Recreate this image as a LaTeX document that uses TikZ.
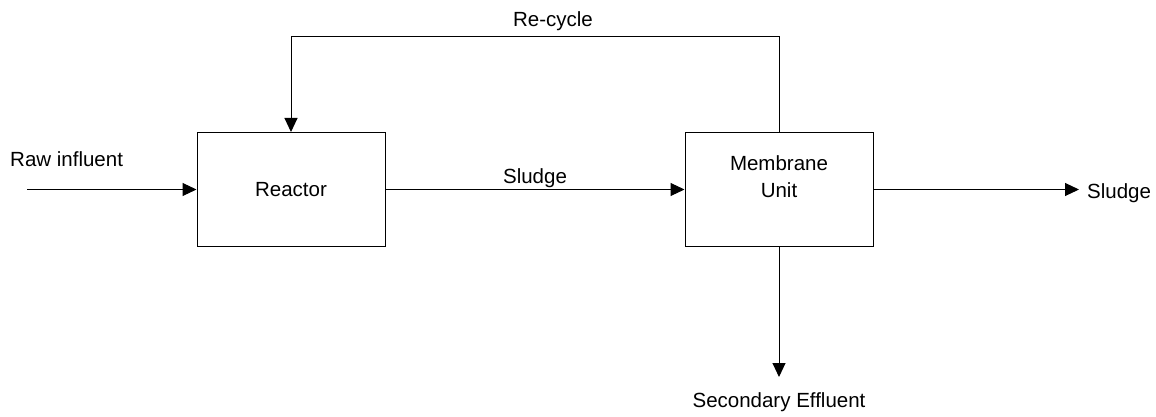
\documentclass[tikz,border=0pt]{standalone}
\usepackage{fontspec}
\setmainfont{Liberation Sans}
\usetikzlibrary{arrows.meta}
\begin{document}
\begin{tikzpicture}[x=1pt,y=-1pt,
  lbl/.style={font=\fontsize{20.5}{27}\selectfont,inner sep=0pt},
  unitbox/.style={draw,line width=1pt,minimum width=188pt,minimum height=114pt,inner sep=0pt,align=center,font=\fontsize{20.5}{27}\selectfont},
  arr/.style={line width=1pt,-{Triangle[length=14pt,width=13pt]}}]
\useasboundingbox (0,0) rectangle (1156,417);
\node[unitbox] (reactor) at (291,189.5) {Reactor};
\node[unitbox] (membrane) at (779,189.5) {};
\node[lbl,anchor=base] (mem1) at (779,170) {Membrane};
\node[lbl,anchor=base] (mem2) at (779,197) {Unit};
\coordinate (rawstart) at (27,189.5);
\coordinate (sludgeend) at (1079,189.5);
\coordinate (effend) at (779,377);
\draw[arr] (rawstart) -- (reactor.west);
\draw[arr] (reactor.east) -- (membrane.west);
\draw[arr] (membrane.east) -- (sludgeend);
\draw[arr] (membrane.south) -- (effend);
\draw[arr] (membrane.north) -- ++(0,-95) -| (reactor.north);
\node[lbl,anchor=base west] (raw) at (10,166) {Raw influent};
\node[lbl,anchor=base] (sludgemid) at (535,183) {Sludge};
\node[lbl,anchor=base west] (sludgeout) at (1087,198) {Sludge};
\node[lbl,anchor=base] (recycle) at (553,27) {Re-cycle};
\node[lbl,anchor=base] (eff) at (779,407) {Secondary Effluent};
\end{tikzpicture}
\end{document}
